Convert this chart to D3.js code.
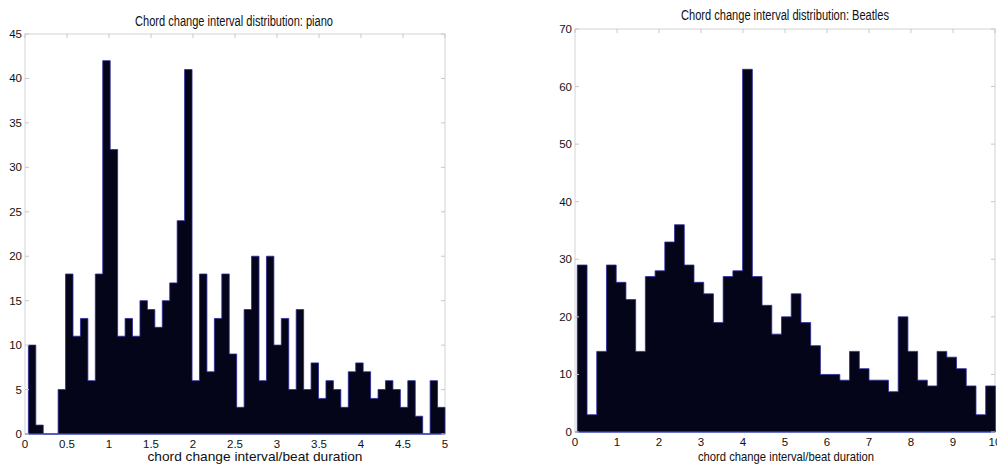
<!doctype html>
<html>
<head>
<meta charset="UTF-8">
<title>Chord change interval distribution</title>
<script src="https://d3js.org/d3.v7.min.js"></script>
<style>
  body { margin: 0; background: #fff; }
  text { font-family: "Liberation Sans", Arial, sans-serif; fill: #111; }
</style>
</head>
<body>
<script>
// piano histogram: 56 bins from 0.04 to 5.0
var pianoCounts = [10, 1, 0, 0, 5, 18, 11, 13, 6, 18, 42, 32, 11, 13, 11, 15, 14, 12, 15, 17,
  24, 41, 6, 18, 7, 13, 18, 9, 3, 14, 20, 6, 20, 10, 13, 5, 14, 5, 8, 4,
  6, 5, 3, 7, 8, 7, 4, 5, 6, 5, 3, 6, 2, 0, 6, 3];
var pianoBins = [0.04, 5.0];
var pianoXTicks = [0, 0.5, 1, 1.5, 2, 2.5, 3, 3.5, 4, 4.5, 5];
var pianoYTicks = [0, 5, 10, 15, 20, 25, 30, 35, 40, 45];

// Beatles histogram: 43 bins from 0.055 to 10.01
var beatlesCounts = [29, 3, 14, 29, 26, 23, 14, 27, 28, 33, 36, 29, 26, 24, 19, 27, 28, 63, 27, 22,
  17, 20, 24, 19, 15, 10, 10, 9, 14, 11, 9, 9, 7, 20, 14, 9, 8, 14, 13, 11,
  8, 3, 8];
var beatlesBins = [0.055, 10.01];
var beatlesXTicks = [0, 1, 2, 3, 4, 5, 6, 7, 8, 9, 10];
var beatlesYTicks = [0, 10, 20, 30, 40, 50, 60, 70];

var svg = d3.select("body").append("svg")
  .attr("width", 997)
  .attr("height", 464);

function hist(opt) {
  var x = d3.scaleLinear().domain(opt.xDomain).range([opt.left, opt.right]);
  var y = d3.scaleLinear().domain(opt.yDomain).range([opt.bottom, opt.top]);
  var g = svg.append("g");
  var n = opt.counts.length;
  var bw = (opt.bins[1] - opt.bins[0]) / n;
  function x0(i) { return x(opt.bins[0] + i * bw); }

  // frame
  g.append("rect")
    .attr("x", opt.left).attr("y", opt.top)
    .attr("width", opt.right - opt.left).attr("height", opt.bottom - opt.top)
    .attr("fill", "none").attr("stroke", "#d4d4d4").attr("stroke-width", 1);

  // bars as one step outline so neighbours merge into a single dark shape
  var pts = [[x0(0), y(0)]];
  opt.counts.forEach(function (d, i) {
    pts.push([x0(i), y(d)]);
    pts.push([x0(i + 1), y(d)]);
  });
  pts.push([x0(n), y(0)]);
  g.append("path")
    .attr("class", "bars")
    .attr("d", d3.line()(pts) + "Z")
    .attr("fill", "#05051a")
    .attr("stroke", "#2a2aa0")
    .attr("stroke-width", 0.8)
    .attr("stroke-linejoin", "miter");

  // baseline
  g.append("line")
    .attr("x1", opt.left).attr("x2", opt.right)
    .attr("y1", y(0)).attr("y2", y(0))
    .attr("stroke", "#3a50c8").attr("stroke-width", 1);

  // ticks, inside
  var tk = g.append("g").attr("stroke", "#c8c8c8").attr("stroke-width", 1);
  opt.xTicks.forEach(function (t) {
    tk.append("line").attr("x1", x(t)).attr("x2", x(t)).attr("y1", opt.top).attr("y2", opt.top + 4);
  });
  opt.yTicks.forEach(function (t) {
    tk.append("line").attr("x1", opt.left).attr("x2", opt.left + 4).attr("y1", y(t)).attr("y2", y(t));
    tk.append("line").attr("x1", opt.right).attr("x2", opt.right - 4).attr("y1", y(t)).attr("y2", y(t));
  });

  // tick labels
  g.selectAll("text.xt")
    .data(opt.xTicks)
    .enter().append("text")
    .attr("x", function (d) { return x(d); })
    .attr("y", opt.bottom + 14)
    .attr("text-anchor", "middle")
    .attr("font-size", 11.5)
    .text(function (d) { return d; });

  g.selectAll("text.yt")
    .data(opt.yTicks)
    .enter().append("text")
    .attr("x", opt.left - 3)
    .attr("y", function (d) { return y(d) + 4; })
    .attr("text-anchor", "end")
    .attr("font-size", 11.5)
    .text(function (d) { return d; });

  // title and x label
  g.append("text")
    .attr("x", opt.titleX).attr("y", opt.titleY)
    .attr("text-anchor", "middle")
    .attr("font-size", 14)
    .attr("textLength", opt.titleLen)
    .attr("lengthAdjust", "spacingAndGlyphs")
    .text(opt.title);

  g.append("text")
    .attr("x", opt.labelX).attr("y", opt.labelY)
    .attr("text-anchor", "middle")
    .attr("font-size", 13)
    .attr("textLength", opt.labelLen)
    .attr("lengthAdjust", "spacingAndGlyphs")
    .text("chord change interval/beat duration");
}

hist({
  counts: pianoCounts, bins: pianoBins,
  xDomain: [0, 5], yDomain: [0, 45],
  xTicks: pianoXTicks, yTicks: pianoYTicks,
  left: 25, right: 445, top: 34, bottom: 434,
  title: "Chord change interval distribution: piano",
  titleX: 234, titleY: 26, titleLen: 198,
  labelX: 255, labelY: 461, labelLen: 215
});

hist({
  counts: beatlesCounts, bins: beatlesBins,
  xDomain: [0, 10], yDomain: [0, 70],
  xTicks: beatlesXTicks, yTicks: beatlesYTicks,
  left: 575, right: 995, top: 29, bottom: 432,
  title: "Chord change interval distribution: Beatles",
  titleX: 785, titleY: 20, titleLen: 208,
  labelX: 786, labelY: 461, labelLen: 176
});
</script>
</body>
</html>
